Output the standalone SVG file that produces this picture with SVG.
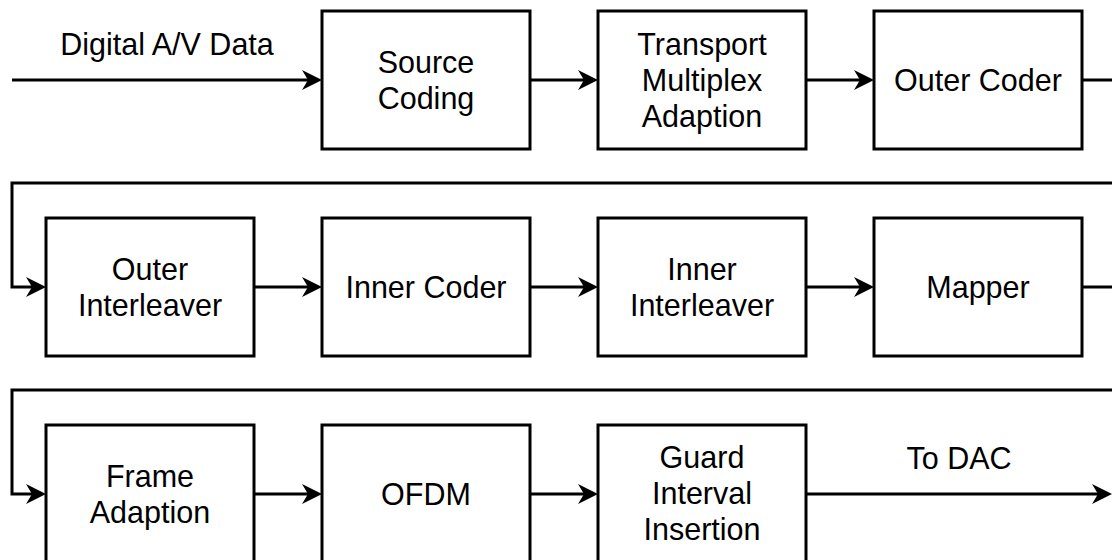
<svg xmlns="http://www.w3.org/2000/svg" width="1112" height="560" viewBox="0 0 1112 560">
  <style>
    .box { fill: #ffffff; stroke: #000000; stroke-width: 3; }
    .wire { fill: none; stroke: #000000; stroke-width: 3; }
    text { font-family: "Liberation Sans", Arial, sans-serif; font-size: 30.5px; fill: #000000; text-anchor: middle; }
  </style>
  <defs>
    <!-- classic arrowhead with a notched back; tip sits 12px past the line end -->
    <marker id="arrow" viewBox="-20 -10 20 20" refX="-12" refY="0" markerWidth="20" markerHeight="20" markerUnits="userSpaceOnUse" orient="auto">
      <path d="M0,0 L-20,-10 L-14,0 L-20,10 Z" fill="#000000"/>
    </marker>
  </defs>

  <!-- connectors -->
  <g id="connectors">
    <path class="wire" d="M12,80 H310" marker-end="url(#arrow)"/>
    <path class="wire" d="M530,80 H586" marker-end="url(#arrow)"/>
    <path class="wire" d="M806,80 H862" marker-end="url(#arrow)"/>
    <path class="wire" d="M1082,80 H1124 V183 H12 V287 H34" marker-end="url(#arrow)"/>
    <path class="wire" d="M254,287 H310" marker-end="url(#arrow)"/>
    <path class="wire" d="M530,287 H586" marker-end="url(#arrow)"/>
    <path class="wire" d="M806,287 H862" marker-end="url(#arrow)"/>
    <path class="wire" d="M1082,287 H1124 V390 H12 V494 H34" marker-end="url(#arrow)"/>
    <path class="wire" d="M254,494 H310" marker-end="url(#arrow)"/>
    <path class="wire" d="M530,494 H586" marker-end="url(#arrow)"/>
    <path class="wire" d="M806,494 H1100" marker-end="url(#arrow)"/>
    <text x="167" y="55">Digital A/V Data</text>
    <text x="959" y="469">To DAC</text>
  </g>

  <!-- row 1 -->
  <g id="source-coding">
    <rect class="box" x="322" y="11" width="208" height="138"/>
    <text x="426" y="72.5">Source</text>
    <text x="426" y="108.5">Coding</text>
  </g>
  <g id="transport-multiplex-adaption">
    <rect class="box" x="598" y="11" width="208" height="138"/>
    <text x="702" y="54.5">Transport</text>
    <text x="702" y="90.5">Multiplex</text>
    <text x="702" y="126.5">Adaption</text>
  </g>
  <g id="outer-coder">
    <rect class="box" x="874" y="11" width="208" height="138"/>
    <text x="978" y="90.5">Outer Coder</text>
  </g>

  <!-- row 2 -->
  <g id="outer-interleaver">
    <rect class="box" x="46" y="218" width="208" height="138"/>
    <text x="150" y="279.5">Outer</text>
    <text x="150" y="315.5">Interleaver</text>
  </g>
  <g id="inner-coder">
    <rect class="box" x="322" y="218" width="208" height="138"/>
    <text x="426" y="297.5">Inner Coder</text>
  </g>
  <g id="inner-interleaver">
    <rect class="box" x="598" y="218" width="208" height="138"/>
    <text x="702" y="279.5">Inner</text>
    <text x="702" y="315.5">Interleaver</text>
  </g>
  <g id="mapper">
    <rect class="box" x="874" y="218" width="208" height="138"/>
    <text x="978" y="297.5">Mapper</text>
  </g>

  <!-- row 3 -->
  <g id="frame-adaption">
    <rect class="box" x="46" y="425" width="208" height="138"/>
    <text x="150" y="486.5">Frame</text>
    <text x="150" y="522.5">Adaption</text>
  </g>
  <g id="ofdm">
    <rect class="box" x="322" y="425" width="208" height="138"/>
    <text x="426" y="504.5">OFDM</text>
  </g>
  <g id="guard-interval-insertion">
    <rect class="box" x="598" y="425" width="208" height="138"/>
    <text x="702" y="467.5">Guard</text>
    <text x="702" y="503.5">Interval</text>
    <text x="702" y="539.5">Insertion</text>
  </g>
</svg>
